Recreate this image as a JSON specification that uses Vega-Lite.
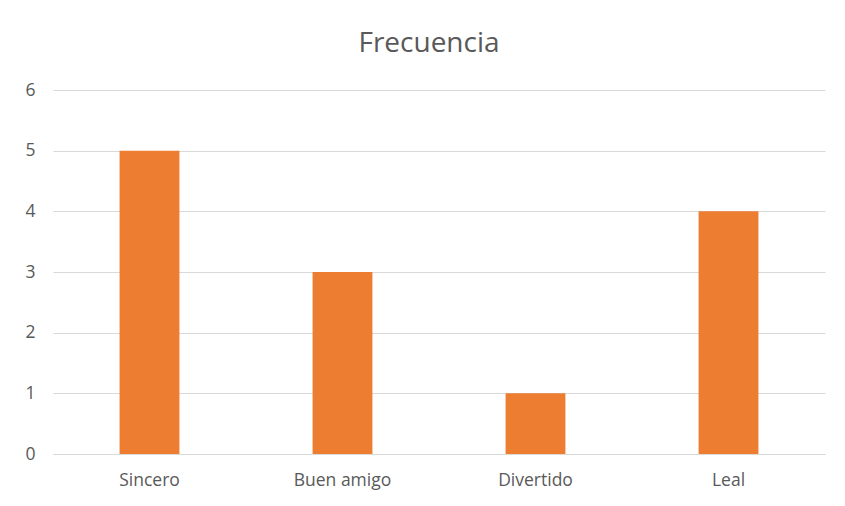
{
  "$schema": "https://vega.github.io/schema/vega-lite/v6.json",
  "width": 772,
  "height": 364,
  "autosize": {"type": "none"},
  "padding": {"left": 53, "top": 90, "right": 20, "bottom": 52},
  "background": "white",
  "title": {
    "text": "Frecuencia",
    "anchor": "middle",
    "frame": "group",
    "font": "Open Sans",
    "fontSize": 28,
    "fontWeight": "normal",
    "color": "#595959",
    "offset": 23,
    "dx": -10
  },
  "data": {
    "values": [
      {"categoria": "Sincero", "frecuencia": 5},
      {"categoria": "Buen amigo", "frecuencia": 3},
      {"categoria": "Divertido", "frecuencia": 1},
      {"categoria": "Leal", "frecuencia": 4}
    ]
  },
  "mark": {"type": "bar", "color": "#ED7D31"},
  "encoding": {
    "x": {
      "field": "categoria",
      "type": "nominal",
      "sort": null,
      "scale": {"paddingInner": 0.69, "paddingOuter": 0.345},
      "axis": {
        "title": null,
        "labelAngle": 0,
        "ticks": false,
        "domainColor": "#d9d9d9",
        "labelFont": "Open Sans",
        "labelFontSize": 17.5,
        "labelColor": "#595959",
        "labelPadding": 17
      }
    },
    "y": {
      "field": "frecuencia",
      "type": "quantitative",
      "scale": {"domain": [0, 6]},
      "axis": {
        "title": null,
        "values": [0, 1, 2, 3, 4, 5, 6],
        "labelOverlap": false,
        "domain": false,
        "ticks": false,
        "gridColor": "#d9d9d9",
        "labelFont": "Open Sans",
        "labelFontSize": 17.5,
        "labelColor": "#595959",
        "labelPadding": 18
      }
    }
  },
  "config": {"view": {"stroke": null}}
}
